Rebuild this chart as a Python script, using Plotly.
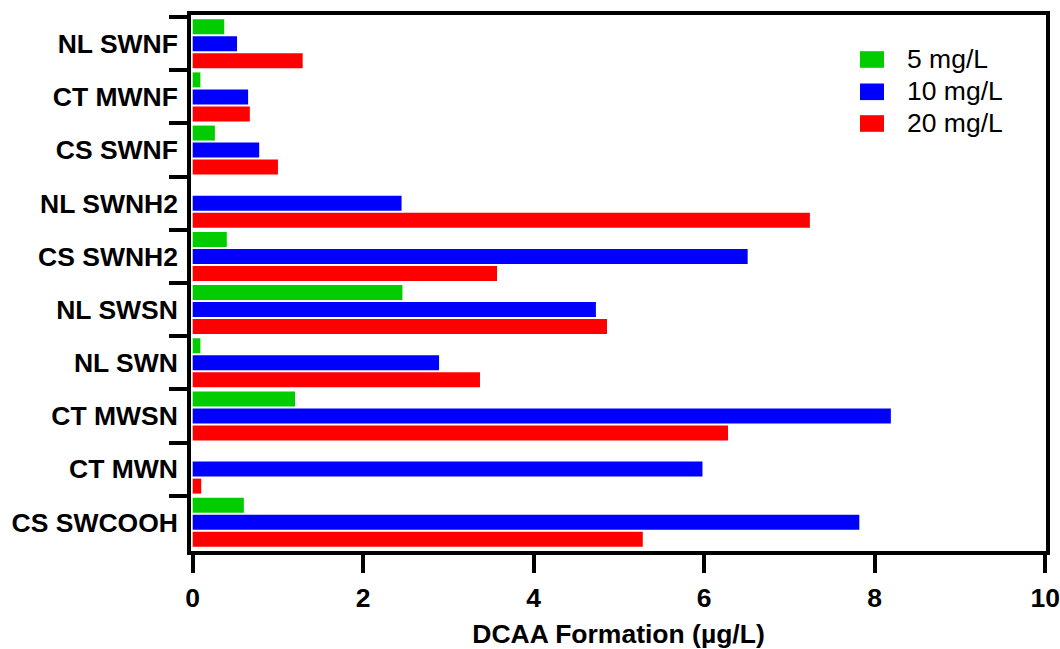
import plotly.graph_objects as go

# Sample sites, listed top to bottom
categories = ["NL SWNF", "CT MWNF", "CS SWNF", "NL SWNH2", "CS SWNH2",
              "NL SWSN", "NL SWN", "CT MWSN", "CT MWN", "CS SWCOOH"]

# DCAA formation (µg/L) per dose
dose_5 = [0.37, 0.09, 0.26, 0.0, 0.40, 2.46, 0.09, 1.20, 0.0, 0.60]
dose_10 = [0.52, 0.65, 0.78, 2.45, 6.51, 4.73, 2.89, 8.19, 5.98, 7.82]
dose_20 = [1.29, 0.67, 1.00, 7.24, 3.57, 4.86, 3.37, 6.28, 0.10, 5.28]

series_names = ["5 mg/L", "10 mg/L", "20 mg/L"]
series_colors = ["#00CC00", "#0000FF", "#FF0000"]
series_values = [dose_5, dose_10, dose_20]

x_ticks = [0, 2, 4, 6, 8, 10]

W, H = 1060, 649
M_L, M_R, M_T, M_B = 191, 14, 15, 98
PW, PH = W - M_L - M_R, H - M_T - M_B

FONT = "Liberation Sans, Arial, sans-serif"
FS = 26.5

fig = go.Figure()
for name, color, vals in zip(series_names, series_colors, series_values):
    fig.add_trace(go.Bar(
        y=categories, x=vals, name=name, orientation="h",
        marker=dict(color=color, line=dict(width=0)),
        showlegend=False,
    ))


def px_x(p):
    return (p - M_L) / PW


def px_y(p):
    return 1 - (p - M_T) / PH


# Legend drawn as swatches with labels
shapes = []
annotations = []
row_centers = [59.5, 91.8, 123.5]
for name, color, yc in zip(series_names, series_colors, row_centers):
    shapes.append(dict(
        type="rect", xref="paper", yref="paper",
        x0=px_x(860), x1=px_x(884), y0=px_y(yc - 8.3), y1=px_y(yc + 8.3),
        fillcolor=color, line=dict(width=0),
    ))
    annotations.append(dict(
        xref="paper", yref="paper", x=px_x(905), y=px_y(yc - 0.5),
        xanchor="left", yanchor="middle", text=name, showarrow=False,
        font=dict(family=FONT, size=FS, color="black"),
    ))

fig.update_layout(
    width=W, height=H,
    margin=dict(l=M_L, r=M_R, t=M_T, b=M_B, pad=0, autoexpand=False),
    paper_bgcolor="white", plot_bgcolor="white",
    barmode="group", bargap=0.04, bargroupgap=0.12,
    shapes=shapes, annotations=annotations,
    font=dict(family=FONT, color="black"),
)

fig.update_xaxes(
    automargin=False,
    range=[-0.02, 10.01], tickvals=x_ticks, ticktext=[str(t) for t in x_ticks],
    showgrid=False, zeroline=False,
    showline=True, linecolor="black", linewidth=3.5, mirror=True,
    ticks="outside", ticklen=18, tickwidth=3.5, tickcolor="black",
    ticklabelstandoff=2,
    tickfont=dict(family=FONT, size=FS, weight="bold", color="black"),
    title=dict(text="DCAA Formation (µg/L)", standoff=14,
               font=dict(family=FONT, size=FS, weight="bold", color="black")),
)

fig.update_yaxes(
    automargin=False,
    type="category", categoryorder="array", categoryarray=categories,
    range=[9.54, -0.54],
    showgrid=False, zeroline=False,
    showline=True, linecolor="black", linewidth=3.5, mirror=True,
    ticks="outside", tickson="boundaries", ticklen=18, tickwidth=3.5,
    tickcolor="black", ticklabelstandoff=4,
    tickfont=dict(family=FONT, size=FS, weight="bold", color="black"),
)

fig.write_html("out.html")
